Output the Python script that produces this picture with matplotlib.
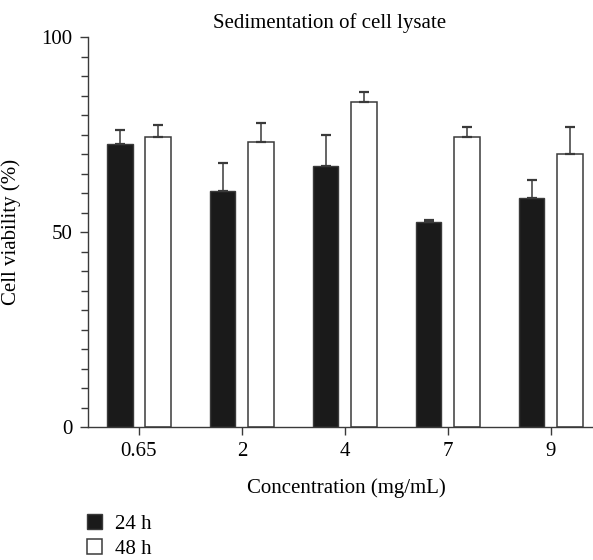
import numpy as np
import matplotlib.pyplot as plt
from matplotlib.ticker import MultipleLocator

# concentrations (mg/mL) and cell viability (%)
concentrations = ["0.65", "2", "4", "7", "9"]
viability_24h = [72.6, 60.6, 67.0, 52.6, 58.6]
err_24h = [3.6, 7.1, 7.9, 0.4, 4.8]
viability_48h = [74.4, 73.2, 83.3, 74.3, 70.0]
err_48h = [3.0, 4.8, 2.5, 2.7, 6.8]

plt.rcParams['font.family'] = ['Liberation Serif', 'DejaVu Serif']
plt.rcParams['font.size'] = 15

W, H = 593, 560
fig = plt.figure(figsize=(W / 100, H / 100), dpi=100)
ax = fig.add_axes([87.7 / W, 1 - 427 / H, (W - 87.7) / W, (427 - 37) / H])

x = np.arange(len(concentrations))
w = 0.252
off = 0.189
ekw = dict(ecolor='#3a3a3a', elinewidth=1.1, capsize=3.5, capthick=1.6)

ax.bar(x - off, viability_24h, w, color='#1a1a1a', edgecolor='#3a3a3a', linewidth=1.0,
       yerr=[np.zeros(len(x)), err_24h], error_kw=ekw, label='24 h')
ax.bar(x + off, viability_48h, w, color='white', edgecolor='#3a3a3a', linewidth=1.1,
       yerr=[np.zeros(len(x)), err_48h], error_kw=ekw, label='48 h')

ax.set_xlim(-0.498, 4.408)
ax.set_ylim(0, 100)
ax.set_xticks(x)
ax.set_xticklabels(concentrations)
ax.set_yticks([0, 50, 100])
ax.yaxis.set_minor_locator(MultipleLocator(5))

for s in ['top', 'right']:
    ax.spines[s].set_visible(False)
for s in ['left', 'bottom']:
    ax.spines[s].set_color('#3a3a3a')
    ax.spines[s].set_linewidth(1.0)

ax.tick_params(axis='y', which='major', direction='out', length=6, width=1, color='#3a3a3a', pad=5)
ax.tick_params(axis='y', which='minor', direction='out', length=5, width=1, color='#3a3a3a')
ax.tick_params(axis='x', direction='out', length=6, width=1, color='#3a3a3a', pad=5)

fig.text(330 / W, 1 - 28 / H, "Sedimentation of cell lysate", ha='center', va='baseline')
fig.text(346 / W, 1 - 493 / H, "Concentration (mg/mL)", ha='center', va='baseline')
fig.text(11 / W, 1 - 232 / H, "Cell viability (%)", ha='center', va='center', rotation=90)

fig.legend(loc='upper left', bbox_to_anchor=(87 / W, 1 - 514 / H), bbox_transform=fig.transFigure,
           frameon=False, borderpad=0, borderaxespad=0, handlelength=0.72, handleheight=0.72,
           handletextpad=0.62, labelspacing=0.27)

fig.savefig("out.png", dpi=100)
